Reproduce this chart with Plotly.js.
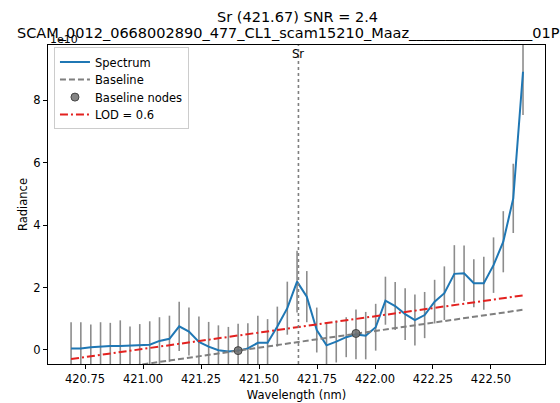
<!DOCTYPE html>
<html>
<head>
<meta charset="utf-8">
<script src="https://cdn.plot.ly/plotly-3.0.1.min.js"></script>
<style>html,body{margin:0;padding:0;background:#fff;overflow:hidden;}#chart{width:560px;height:403px;}</style>
</head>
<body>
<div id="chart"></div>
<script>
const wavelength = [420.690, 420.732, 420.775, 420.817, 420.859, 420.902, 420.944, 420.986, 421.029, 421.071,
  421.114, 421.156, 421.198, 421.241, 421.283, 421.325, 421.368, 421.410, 421.452, 421.495,
  421.537, 421.579, 421.622, 421.664, 421.706, 421.749, 421.791, 421.833, 421.876, 421.918,
  421.960, 422.003, 422.045, 422.087, 422.130, 422.172, 422.214, 422.257, 422.299, 422.342,
  422.384, 422.426, 422.469, 422.511, 422.553, 422.596, 422.638];
const spectrum = [0.05, 0.05, 0.09, 0.12, 0.13, 0.13, 0.14, 0.14, 0.17, 0.29,
  0.36, 0.76, 0.59, 0.26, 0.11, -0.01, -0.05, -0.02, 0.05, 0.23,
  0.23, 0.75, 1.34, 2.19, 1.71, 0.64, 0.15, 0.27, 0.41, 0.50,
  0.46, 0.73, 1.58, 1.41, 1.15, 0.96, 1.12, 1.55, 1.82, 2.44,
  2.46, 2.14, 2.14, 2.72, 3.47, 4.86, 8.92];
const uncertainty = [0.84, 0.84, 0.73, 0.77, 0.74, 0.82, 0.61, 0.69, 0.75, 0.76,
  0.74, 0.79, 0.77, 0.81, 0.79, 0.80, 0.79, 0.86, 0.81, 0.87,
  0.76, 0.64, 0.85, 0.99, 0.82, 0.72, 0.70, 0.67, 0.64, 0.80,
  0.76, 0.75, 0.77, 0.77, 0.83, 0.82, 0.74, 0.70, 0.86, 0.92,
  0.89, 0.77, 0.85, 0.89, 0.98, 1.11, 1.39];
const baselineX = [420.690, 422.638];
const baselineY = [-0.79, 1.29];
const nodeX = [421.410, 421.918];
const nodeY = [-0.02, 0.53];
const lodX = [420.690, 422.638];
const lodY = [-0.29, 1.75];
const lineWavelength = 421.67;
const xTicks = [420.75, 421.00, 421.25, 421.50, 421.75, 422.00, 422.25, 422.50];
const yTicks = [0, 2, 4, 6, 8];
const titleLine1 = "Sr (421.67) SNR = 2.4";
const titleLine2 = "SCAM_0012_0668002890_477_CL1_scam15210_Maaz_________________01P";

const FONT = "DejaVu Sans, sans-serif";

// size the title so that its second line spans the same width as in the reference
const ctx = document.createElement("canvas").getContext("2d");
ctx.font = '100px "DejaVu Sans"';
const emWidth = ctx.measureText(titleLine2).width / 100;
let titleSize = 543 / emWidth;
if (!isFinite(titleSize) || titleSize < 10 || titleSize > 18) titleSize = 14.5;

const PLOT_L = 48, PLOT_W = 497;

const traces = [
  {
    x: wavelength, y: spectrum, type: "scatter", mode: "markers",
    marker: {size: 1, opacity: 0},
    error_y: {type: "data", array: uncertainty, visible: true, color: "#8c8c8c", thickness: 1.6, width: 0},
    showlegend: false, hoverinfo: "skip"
  },
  {
    x: wavelength, y: spectrum, type: "scatter", mode: "lines", name: "Spectrum",
    line: {color: "#1f77b4", width: 2}
  },
  {
    x: baselineX, y: baselineY, type: "scatter", mode: "lines", name: "Baseline",
    line: {color: "#7f7f7f", width: 2, dash: "6px,3px"}
  },
  {
    x: nodeX, y: nodeY, type: "scatter", mode: "markers", name: "Baseline nodes",
    marker: {color: "rgba(110,110,110,0.85)", size: 8, line: {color: "#444", width: 1}}
  },
  {
    x: lodX, y: lodY, type: "scatter", mode: "lines", name: "LOD = 0.6",
    line: {color: "#e3211f", width: 2, dash: "8px,3px,2px,3px"}
  }
];

const layout = {
  width: 560, height: 403,
  margin: {l: 48, r: 15, t: 45, b: 39},
  paper_bgcolor: "#fff", plot_bgcolor: "#fff",
  font: {family: FONT, size: 11.5, color: "#000"},
  xaxis: {
    range: [420.5905, 422.7328],
    tickvals: xTicks, ticktext: xTicks.map(v => v.toFixed(2)),
    ticks: "outside", ticklen: 4, tickwidth: 1, tickcolor: "#000",
    showline: true, mirror: true, linecolor: "#000", linewidth: 1,
    showgrid: false, zeroline: false,
    tickfont: {family: FONT, size: 11.5},
    title: {text: "Wavelength (nm)", font: {family: FONT, size: 11.5}, standoff: 6}
  },
  yaxis: {
    range: [-0.449, 9.776],
    tickvals: yTicks, ticktext: yTicks.map(String),
    ticks: "outside", ticklen: 4, tickwidth: 1, tickcolor: "#000",
    showline: true, mirror: true, linecolor: "#000", linewidth: 1,
    showgrid: false, zeroline: false,
    tickfont: {family: FONT, size: 11.5},
    title: {text: "Radiance", font: {family: FONT, size: 11.5}, standoff: 3}
  },
  legend: {
    x: 0.012, y: 0.995, xanchor: "left", yanchor: "top",
    bgcolor: "rgba(255,255,255,0.85)", bordercolor: "#cccccc", borderwidth: 1,
    font: {family: FONT, size: 11.5}, tracegroupgap: 0, itemwidth: 30
  },
  shapes: [
    {type: "line", xref: "x", yref: "paper", x0: lineWavelength, x1: lineWavelength, y0: 0, y1: 1,
     line: {color: "#7f7f7f", width: 1.6, dash: "dot"}, layer: "above"}
  ],
  annotations: [
    {text: titleLine1, xref: "paper", yref: "paper", x: (297 - PLOT_L) / PLOT_W, y: 1,
     xanchor: "center", yanchor: "middle", yshift: 28, showarrow: false,
     font: {family: FONT, size: titleSize, color: "#000"}},
    {text: titleLine2, xref: "paper", yref: "paper", x: (15 - PLOT_L) / PLOT_W, y: 1,
     xanchor: "left", yanchor: "middle", yshift: 12, showarrow: false,
     font: {family: FONT, size: titleSize, color: "#000"}},
    {text: "Sr", xref: "x", yref: "paper", x: lineWavelength, y: 1, xanchor: "center", yanchor: "top",
     yshift: 0, showarrow: false, font: {family: FONT, size: 11.5, color: "#000"}},
    {text: "1e10", xref: "paper", yref: "paper", x: 0, y: 1, xanchor: "left", yanchor: "bottom",
     yshift: -3, showarrow: false, font: {family: FONT, size: 11, color: "#000"}}
  ]
};

Plotly.newPlot("chart", traces, layout, {displayModeBar: false, staticPlot: true}).then(gd => {
  // tighten legend row spacing to match the reference (about 17.5 px per row)
  try {
    const items = gd.querySelectorAll(".legend .traces");
    if (items.length < 2) return;
    const parse = el => {
      const m = /translate\(\s*([-\d.]+)[ ,]+([-\d.]+)\s*\)/.exec(el.getAttribute("transform") || "");
      return m ? [parseFloat(m[1]), parseFloat(m[2])] : null;
    };
    const p0 = parse(items[0]), p1 = parse(items[1]);
    if (!p0 || !p1) return;
    const oldStep = p1[1] - p0[1];
    const newStep = 17.5;
    items.forEach((el, i) => {
      const p = parse(el);
      if (p) el.setAttribute("transform", "translate(" + p[0] + "," + (p0[1] + i * newStep) + ")");
    });
    const shrink = (oldStep - newStep) * items.length;
    const bg = gd.querySelector(".legend .bg");
    if (bg) {
      const h = parseFloat(bg.getAttribute("height"));
      if (isFinite(h)) bg.setAttribute("height", h - shrink);
    }
  } catch (e) {}
});
</script>
</body>
</html>
